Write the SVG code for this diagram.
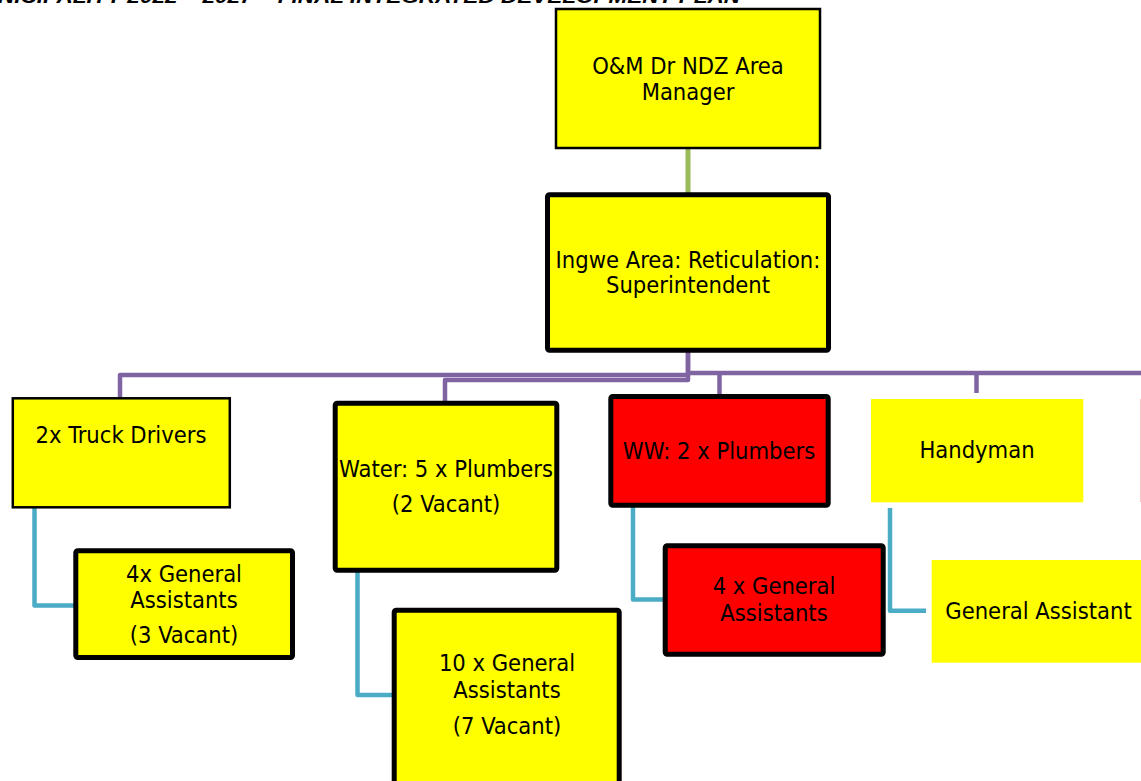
<svg xmlns="http://www.w3.org/2000/svg" width="1141" height="781" viewBox="0 0 1141 781">
  <style>
    .lbl { font-family: "DejaVu Sans Condensed", "DejaVu Sans", sans-serif; font-size: 23.5px; fill: #000; text-anchor: middle; }
    .hdr { font-family: "Liberation Sans", Arial, sans-serif; font-size: 19px; font-weight: bold; font-style: italic; fill: #000; }
    .yel { fill: #ffff00; }
    .red { fill: #ff0000; }
    .thin { stroke: #000; stroke-width: 2.5; }
    .thick { stroke: #000; stroke-width: 5; }
    .purple { fill: none; stroke: #8064a2; stroke-width: 4.5; stroke-linejoin: round; }
    .blue { fill: none; stroke: #4bacc6; stroke-width: 4.5; stroke-linejoin: round; }
    .green { fill: none; stroke: #9bbb59; stroke-width: 5; }
  </style>

  <!-- page header, cut by the top edge -->
  <text class="hdr" x="-2" y="2.5" textLength="742" lengthAdjust="spacingAndGlyphs">NICIPALITY 2022 – 2027 – FINAL INTEGRATED DEVELOPMENT PLAN</text>

  <!-- connectors -->
  <g id="connectors">
    <line class="green" x1="688" y1="149" x2="688" y2="193"/>
    <path class="purple" d="M688 352 V375 H120 V398"/>
    <path class="purple" d="M688 352 V380 H445 V402"/>
    <path class="purple" d="M688 373 H1141"/>
    <path class="purple" d="M719.5 373 V395"/>
    <path class="purple" d="M976.5 373 V393"/>
    <path class="blue" d="M34.5 508 V605.5 H74"/>
    <path class="blue" d="M357.5 572 V695 H393"/>
    <path class="blue" d="M633 507 V599.5 H663"/>
    <path class="blue" d="M890 508 V610.8 H926"/>
  </g>

  <g id="area-manager">
    <rect class="yel thin" x="556" y="9" width="264" height="139"/>
    <text class="lbl" x="688" y="74">O&amp;M Dr NDZ Area</text>
    <text class="lbl" x="688" y="100">Manager</text>
  </g>

  <g id="superintendent">
    <rect class="yel thick" x="547.5" y="194.8" width="281" height="155.4" rx="2"/>
    <text class="lbl" x="688" y="267.5">Ingwe Area: Reticulation:</text>
    <text class="lbl" x="688" y="293">Superintendent</text>
  </g>

  <g id="truck-drivers">
    <rect class="yel thin" x="12.8" y="398.3" width="217" height="109"/>
    <text class="lbl" x="121" y="442.5">2x Truck Drivers</text>
  </g>

  <g id="truck-assistants">
    <rect class="yel thick" x="75.8" y="550.8" width="216.7" height="106.7" rx="2"/>
    <text class="lbl" x="184" y="581.5">4x General</text>
    <text class="lbl" x="184" y="608.3">Assistants</text>
    <text class="lbl" x="184" y="643.3">(3 Vacant)</text>
  </g>

  <g id="water-plumbers">
    <rect class="yel thick" x="335.2" y="403.2" width="221.6" height="167" rx="2"/>
    <text class="lbl" x="446" y="476.7">Water: 5 x Plumbers</text>
    <text class="lbl" x="446" y="511.7">(2 Vacant)</text>
  </g>

  <g id="water-assistants">
    <rect class="yel thick" x="394.2" y="610.2" width="225" height="200" rx="2"/>
    <text class="lbl" x="507" y="671">10 x General</text>
    <text class="lbl" x="507" y="698">Assistants</text>
    <text class="lbl" x="507" y="734">(7 Vacant)</text>
  </g>

  <g id="ww-plumbers">
    <rect class="red thick" x="610.8" y="396.5" width="217.4" height="108.7" rx="2"/>
    <text class="lbl" x="719" y="459">WW: 2 x Plumbers</text>
  </g>

  <g id="ww-assistants">
    <rect class="red thick" x="665.2" y="545.8" width="218" height="108.4" rx="2"/>
    <text class="lbl" x="774" y="594">4 x General</text>
    <text class="lbl" x="774" y="620.7">Assistants</text>
  </g>

  <g id="handyman">
    <rect class="yel" x="871" y="399" width="212.3" height="103.3"/>
    <text class="lbl" x="977" y="458">Handyman</text>
  </g>

  <g id="handyman-assistant">
    <rect class="yel" x="931.7" y="560" width="220" height="102.7"/>
    <text class="lbl" x="1038.5" y="619">General Assistant</text>
  </g>

  <g id="next-unit">
    <rect class="red" x="1140.5" y="399" width="100" height="103" opacity="0.45"/>
  </g>
</svg>
